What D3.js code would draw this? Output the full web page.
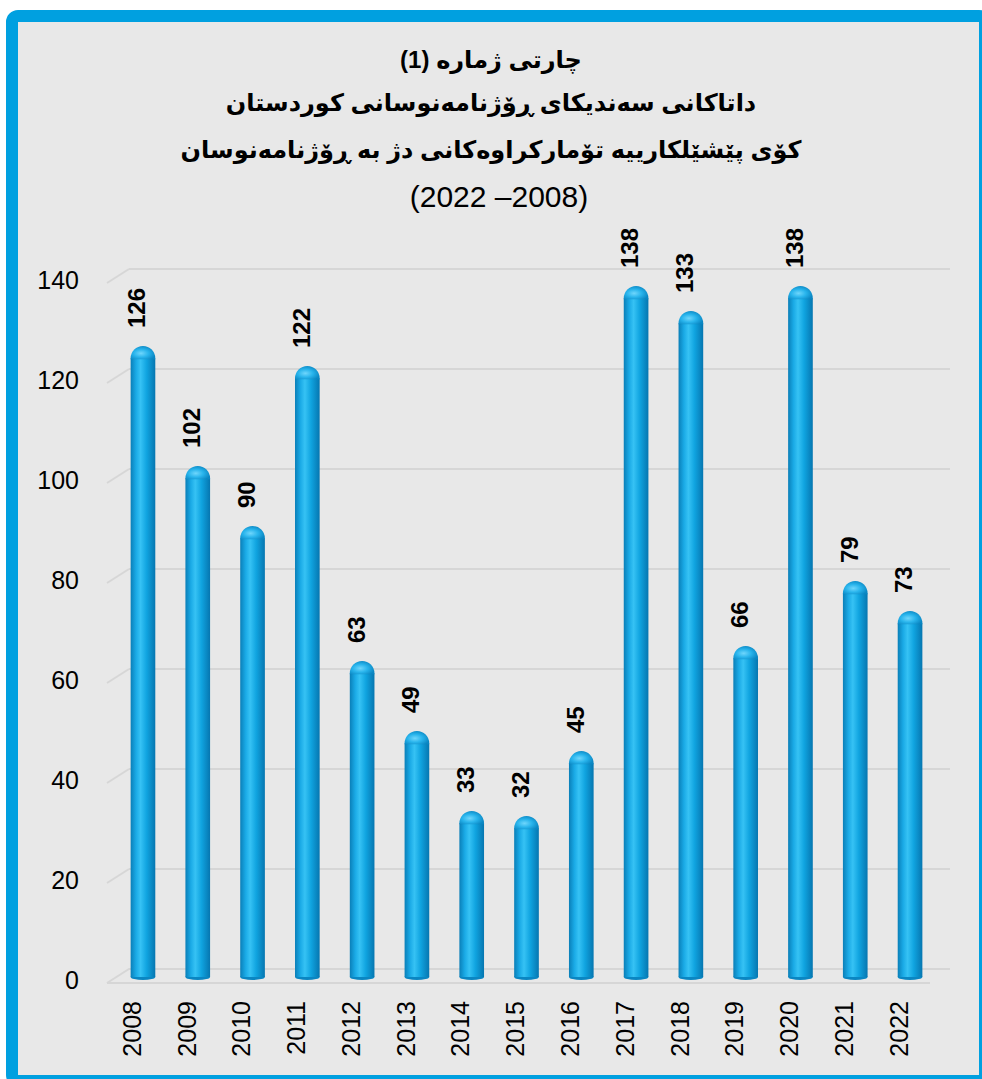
<!DOCTYPE html>
<html><head><meta charset="utf-8">
<script src="https://cdn.jsdelivr.net/npm/d3@7"></script>
<style>html,body{margin:0;padding:0;background:#fff;overflow:hidden}</style>
</head><body>
<script>
const years = ["2008","2009","2010","2011","2012","2013","2014","2015","2016","2017","2018","2019","2020","2021","2022"];
const values = [126,102,90,122,63,49,33,32,45,138,133,66,138,79,73];
const yTicks = [0,20,40,60,80,100,120,140];
const titleLines = ["چارتی ژمارە (1)","داتاکانی سەندیکای ڕۆژنامەنوسانی کوردستان","کۆی پێشێلکارییە تۆمارکراوەکانی دژ بە ڕۆژنامەنوسان"];
const titleYears = "(2022 –2008)";

const W = 982, H = 1079;
const svg = d3.select("body").append("svg").attr("width", W).attr("height", H);
const defs = svg.append("defs");

// frame
svg.append("rect").attr("x",12).attr("y",16).attr("width",973).attr("height",1065)
  .attr("rx",6).attr("fill","#e8e8e8").attr("stroke","#00a0e0").attr("stroke-width",12);

// scales (mid-depth plane)
const x = d3.scaleBand().domain(years).range([100.5, 952.5]).padding(0.55);
const y = d3.scaleLinear().domain([0,140]).range([976, 276]);
const dx = 11, dy = 7; // half depth offset

// gridlines (back wall)
const grid = svg.append("g");
yTicks.forEach(t => {
  if (t === 0) return;
  const yb = y(t) - dy;
  grid.append("line").attr("x1",129).attr("x2",950).attr("y1",yb).attr("y2",yb)
    .attr("stroke","#d6d6d6").attr("stroke-width",2);
  grid.append("line").attr("x1",107).attr("x2",129).attr("y1",yb+14).attr("y2",yb)
    .attr("stroke","#d6d6d6").attr("stroke-width",2);
});
// floor
const f0b = y(0) - dy, f0f = y(0) + dy;
grid.append("path").attr("d",`M107,${f0f} L930,${f0f} M107,${f0f} L129,${f0b} L950,${f0b}`)
  .attr("fill","none").attr("stroke","#d6d6d6").attr("stroke-width",2);

// y labels
svg.append("g").selectAll("text").data(yTicks).join("text")
  .attr("x",79).attr("y",d => y(d)+dy-3).attr("dy","0.35em")
  .attr("text-anchor","end").attr("font-family","Liberation Sans, Arial, sans-serif")
  .attr("font-size",25).attr("fill","#000").text(d => d);

// gradients
const lg = defs.append("linearGradient").attr("id","cyl").attr("x1","0").attr("x2","1").attr("y1","0").attr("y2","0");
[[0,"#0a7fb8"],[0.22,"#1aaae6"],[0.4,"#36c2f4"],[0.65,"#10a4e0"],[1,"#0676b0"]].forEach(([o,c]) =>
  lg.append("stop").attr("offset",o).attr("stop-color",c));
const rg = defs.append("radialGradient").attr("id","cap").attr("cx","0.42").attr("cy","0.55").attr("r","0.6");
[[0,"#6fd6fc"],[0.5,"#28b4ec"],[1,"#0a86c2"]].forEach(([o,c]) =>
  rg.append("stop").attr("offset",o).attr("stop-color",c));

// bars
const bw = x.bandwidth();
const bars = svg.append("g").selectAll("g").data(years.map((yr,i)=>({yr, v: values[i]}))).join("g");
bars.append("ellipse").attr("cx",d => x(d.yr)+bw/2).attr("cy",y(0)+1)
  .attr("rx",bw/2).attr("ry",3).attr("fill","#0a86c2");
bars.append("rect").attr("x",d => x(d.yr)).attr("width",bw)
  .attr("y",d => y(d.v)+bw/2).attr("height",d => y(0)-y(d.v)-bw/2+1)
  .attr("fill","url(#cyl)");
bars.append("path").attr("d", d => {
    const x0 = x(d.yr), yt = y(d.v), r = bw/2;
    return `M${x0},${yt+r+1} L${x0},${yt+r} A${r},${r} 0 0 1 ${x0+bw},${yt+r} L${x0+bw},${yt+r+1} Z`;
  }).attr("fill","url(#cap)");

// value labels
bars.append("text")
  .attr("transform", d => `translate(${x(d.yr)+bw/2-6},${y(d.v)-18}) rotate(-90)`)
  .attr("dy","0.35em").attr("text-anchor","start")
  .attr("font-family","Liberation Sans, Arial, sans-serif").attr("font-weight","bold")
  .attr("font-size",24).attr("fill","#000").text(d => d.v);

// x labels
svg.append("g").selectAll("text").data(years).join("text")
  .attr("transform", d => `translate(${x(d)+bw/2-11},1001) rotate(-90)`)
  .attr("dy","0.35em").attr("text-anchor","end")
  .attr("font-family","Liberation Sans, Arial, sans-serif")
  .attr("font-size",25).attr("fill","#000").text(d => d);

// title
const tg = svg.append("g").attr("font-family","Liberation Sans, DejaVu Sans, sans-serif")
  .attr("font-weight","bold").attr("font-size",24).attr("fill","#000").attr("text-anchor","middle");
const ty = [60,103,150];
titleLines.forEach((t,i) => tg.append("text").attr("x",491).attr("y",ty[i]).attr("dy","0.35em")
  .attr("direction","rtl").attr("text-anchor","middle").text(t));
tg.append("text").attr("x",499).attr("y",196).attr("dy","0.35em").attr("font-size",30)
  .attr("font-weight","normal").attr("direction","ltr").text(titleYears);
</script>
</body></html>
